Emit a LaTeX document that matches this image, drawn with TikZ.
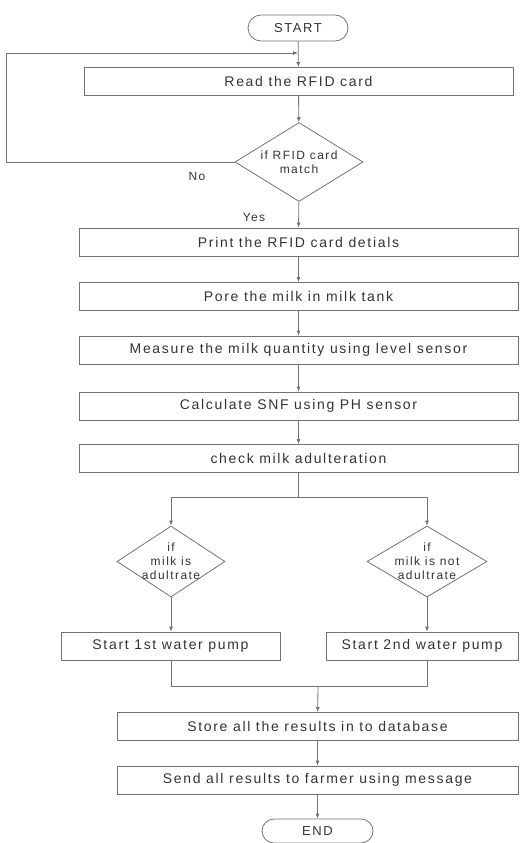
\documentclass[tikz,border=0pt]{standalone}
\usepackage{fontspec}
\setmainfont[LetterSpace=12]{Liberation Sans}
\usetikzlibrary{shapes.geometric,shapes.misc,arrows.meta}
\tikzset{
  box/.style = {draw, rectangle, minimum height=28, inner sep=0pt, font=\fontsize{14}{16}\selectfont},
  term/.style = {draw, rounded rectangle, minimum height=26, inner sep=0pt, font=\fontsize{13}{15}\selectfont},
  cond/.style = {draw, diamond, inner sep=0pt},
  ctext/.style = {align=center, font=\fontsize{12}{14}\selectfont},
  arr/.style = {-{Latex[length=5pt,width=4pt]}}
}
\begin{document}
\begin{tikzpicture}[x=1pt, y=-1pt, draw=black!55, text=black!80, line width=0.8pt]
  \useasboundingbox (0,0) rectangle (527,843); % page size of the reference
  \node[term, minimum width=100] (start) at (298,28) {START};
  \node[box, minimum width=429] (read) at (298.5,81.5) {Read the RFID card};
  \node[cond, minimum width=128, minimum height=79] (match) at (299,162) {};
  \node[ctext] (matchtxt) at (match) {if RFID card\\match};
  \node[ctext] (no) at (197,176) {No};
  \node[ctext] (yes) at (254,217) {Yes};
  \foreach \n/\y/\t in {print/242/Print the RFID card detials, pore/296.5/Pore the milk in milk tank,
      measure/350/Measure the milk quantity using level sensor, calc/406/Calculate SNF using PH sensor,
      check/458.5/check milk adulteration} {
    \node[box, minimum width=439] (\n) at (298.5,\y) {\t};
  }
  \node[cond, minimum width=108, minimum height=71] (adul) at (171,561.5) {};
  \node[ctext] (adultxt) at (adul) {if\\milk is\\adultrate};
  \node[cond, minimum width=120, minimum height=71] (notadul) at (427,561.5) {};
  \node[ctext] (notadultxt) at (notadul) {if\\milk is not\\adultrate};
  \node[box, minimum width=219] (pump1) at (170.5,646) {Start 1st water pump};
  \node[box, minimum width=192] (pump2) at (422,646) {Start 2nd water pump};
  \node[box, minimum width=401] (store) at (317.5,726.5) {Store all the results in to database};
  \node[box, minimum width=401] (send) at (317.5,780) {Send all results to farmer using message};
  \node[term, minimum width=111, minimum height=24] (end) at (317.5,831) {END};
  \coordinate (loopin) at (298,53);
  \coordinate (split) at (298.5,497);
  \coordinate (merge) at (318,686);
  % main line
  \draw[arr] (start) -- (read);
  \draw[arr] (read) -- (match);
  \draw[arr] (match) -- (print);
  \draw[arr] (match.west) -- ++(-228,0) |- (loopin);
  \foreach \a/\b in {print/pore, pore/measure, measure/calc, calc/check} { \draw[arr] (\a) -- (\b); }
  % branches
  \draw (check) -- (split);
  \draw[arr] (split) -| (adul);
  \draw[arr] (split) -| (notadul);
  \draw[arr] (adul) -- (adul |- pump1.north);
  \draw[arr] (notadul) -- (notadul |- pump2.north);
  \draw (adul |- pump1.south) |- (merge);
  \draw (notadul |- pump2.south) |- (merge);
  \draw[arr] (merge) -- (store);
  \draw[arr] (store) -- (send);
  \draw[arr] (send) -- (end);
\end{tikzpicture}
\end{document}
